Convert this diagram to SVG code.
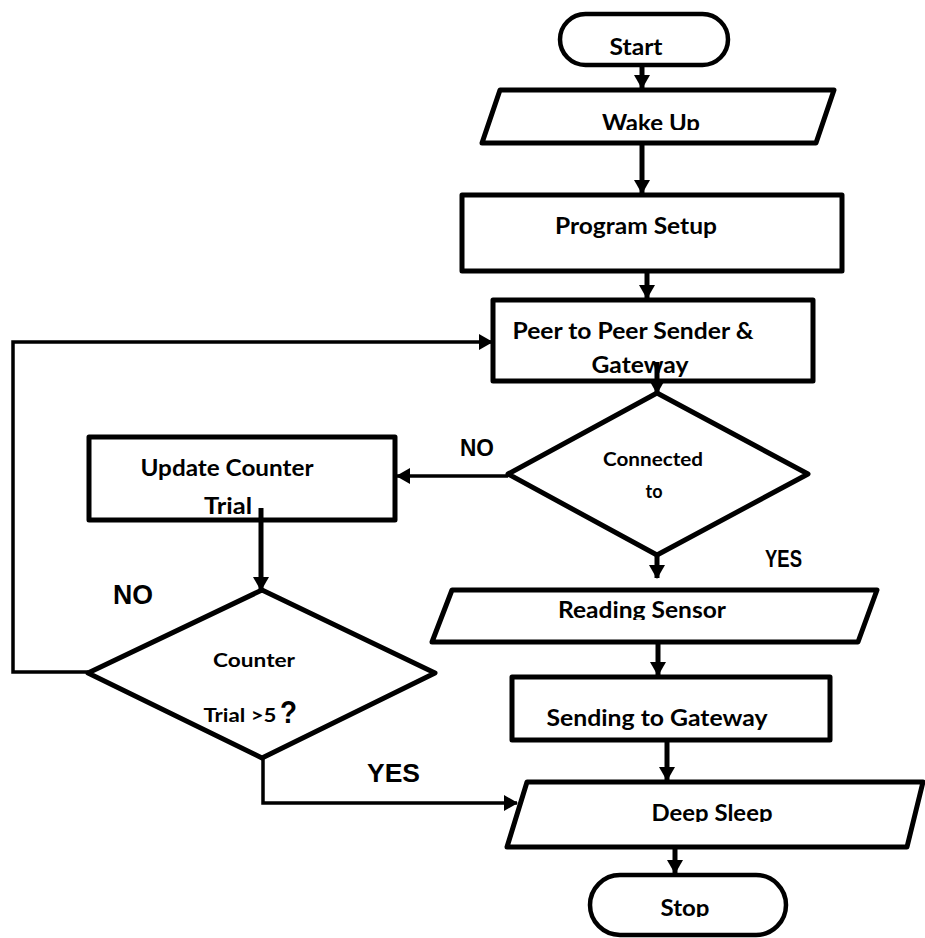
<svg xmlns="http://www.w3.org/2000/svg" width="925" height="938" viewBox="0 0 925 938">
  <style>
    .shape { fill: #ffffff; stroke: #000000; stroke-width: 5; stroke-linejoin: round; }
    .term  { fill: #ffffff; stroke: #000000; stroke-width: 4.5; }
    .lbl   { font-family: Lato, "Liberation Sans", sans-serif; font-weight: bold; font-size: 22px; fill: #000; text-anchor: middle; }
    .small { font-size: 18px; }
    .tag   { font-family: "Liberation Sans", Arial, sans-serif; font-weight: bold; fill: #000; }
    .wire  { fill: none; stroke: #000; stroke-width: 5; }
    .thin  { fill: none; stroke: #000; stroke-width: 3.5; }
  </style>
  <defs>
    <marker id="head" markerUnits="userSpaceOnUse" viewBox="0 0 14 16" markerWidth="14" markerHeight="16" refX="13" refY="8" orient="auto">
      <path d="M0,0 L14,8 L0,16 Z" fill="#000"/>
    </marker>
    <!-- clip boxes that cut descenders like a tight text frame -->
    <clipPath id="clipWake"><rect x="480" y="100" width="360" height="30"/></clipPath>
    <clipPath id="clipRead"><rect x="440" y="595" width="420" height="25"/></clipPath>
    <clipPath id="clipDeep"><rect x="520" y="790" width="390" height="32"/></clipPath>
    <clipPath id="clipStop"><rect x="600" y="890" width="170" height="27"/></clipPath>
  </defs>

  <rect width="925" height="938" fill="#ffffff"/>

  <g id="start">
    <rect class="term" x="560" y="14" width="168" height="51" rx="25.5"/>
    <text class="lbl" x="636" y="55" textLength="53" lengthAdjust="spacingAndGlyphs">Start</text>
  </g>

  <g id="wake-up">
    <polygon class="shape" points="500,90 834,90 816,143 482,143"/>
    <text class="lbl" x="651" y="131" clip-path="url(#clipWake)" textLength="98" lengthAdjust="spacingAndGlyphs">Wake Up</text>
  </g>

  <g id="program-setup">
    <rect class="shape" x="462" y="195" width="380" height="76"/>
    <text class="lbl" x="636" y="234" textLength="162" lengthAdjust="spacingAndGlyphs">Program Setup</text>
  </g>

  <g id="peer-to-peer">
    <rect class="shape" x="493" y="300" width="320" height="81"/>
    <text class="lbl" x="633" y="339" textLength="241" lengthAdjust="spacingAndGlyphs">Peer to Peer Sender &amp;</text>
    <text class="lbl" x="640" y="373" textLength="97" lengthAdjust="spacingAndGlyphs">Gateway</text>
  </g>

  <g id="connected">
    <polygon class="shape" points="657,393 808,474 657,555 508,474"/>
    <text class="lbl small" x="653" y="466" textLength="100" lengthAdjust="spacingAndGlyphs">Connected</text>
    <text class="lbl small" x="654" y="498">to</text>
  </g>

  <g id="update-counter">
    <rect class="shape" x="89" y="437" width="306" height="83"/>
    <text class="lbl" x="227" y="476" textLength="173" lengthAdjust="spacingAndGlyphs">Update Counter</text>
    <text class="lbl" x="228" y="514" textLength="48" lengthAdjust="spacingAndGlyphs">Trial</text>
  </g>

  <g id="counter-check">
    <polygon class="shape" points="262,590 435,673 262,758 88,673"/>
    <text class="lbl small" x="254" y="667" textLength="82" lengthAdjust="spacingAndGlyphs">Counter</text>
    <text class="lbl small" x="240" y="722" textLength="73" lengthAdjust="spacingAndGlyphs">Trial &gt;5</text>
    <text class="tag" x="280" y="723" style="font-size:31px" textLength="17" lengthAdjust="spacingAndGlyphs">?</text>
  </g>

  <g id="reading-sensor">
    <polygon class="shape" points="452,590 877,590 858,642 432,642"/>
    <text class="lbl" x="642" y="618" clip-path="url(#clipRead)" textLength="168" lengthAdjust="spacingAndGlyphs">Reading Sensor</text>
  </g>

  <g id="sending">
    <rect class="shape" x="512" y="677" width="318" height="63"/>
    <text class="lbl" x="657" y="726" textLength="221" lengthAdjust="spacingAndGlyphs">Sending to Gateway</text>
  </g>

  <g id="deep-sleep">
    <polygon class="shape" points="527,782 923,782 907,847 507,847"/>
    <text class="lbl" x="712" y="821" clip-path="url(#clipDeep)" textLength="121" lengthAdjust="spacingAndGlyphs">Deep Sleep</text>
  </g>

  <g id="stop">
    <rect class="term" x="590" y="875" width="196" height="60" rx="30"/>
    <text class="lbl" x="685" y="916" clip-path="url(#clipStop)" textLength="49" lengthAdjust="spacingAndGlyphs">Stop</text>
  </g>

  <g id="connectors">
    <path class="wire" d="M642,65 V88" marker-end="url(#head)"/>
    <path class="wire" d="M642,143 V193" marker-end="url(#head)"/>
    <path class="wire" d="M647,271 V298" marker-end="url(#head)"/>
    <path class="wire" d="M657,362 V393" marker-end="url(#head)"/>
    <path class="wire" d="M657,555 V578" marker-end="url(#head)"/>
    <path class="wire" d="M658,642 V675" marker-end="url(#head)"/>
    <path class="wire" d="M667,740 V780" marker-end="url(#head)"/>
    <path class="wire" d="M675,847 V873" marker-end="url(#head)"/>
    <path class="thin" d="M508,476 H397" marker-end="url(#head)"/>
    <path class="wire" d="M261,508 V590" marker-end="url(#head)"/>
    <path class="thin" d="M88,672 H13 V342 H492" marker-end="url(#head)"/>
    <path class="thin" d="M263,758 V803 H517" marker-end="url(#head)"/>
  </g>

  <g id="labels">
    <text class="tag" x="460" y="456" style="font-size:23px" textLength="34" lengthAdjust="spacingAndGlyphs">NO</text>
    <text class="tag" x="765" y="567" style="font-size:23px" textLength="37" lengthAdjust="spacingAndGlyphs">YES</text>
    <text class="tag" x="113" y="604" style="font-size:27px" textLength="40" lengthAdjust="spacingAndGlyphs">NO</text>
    <text class="tag" x="367" y="782" style="font-size:25px" textLength="53" lengthAdjust="spacingAndGlyphs">YES</text>
  </g>
</svg>
